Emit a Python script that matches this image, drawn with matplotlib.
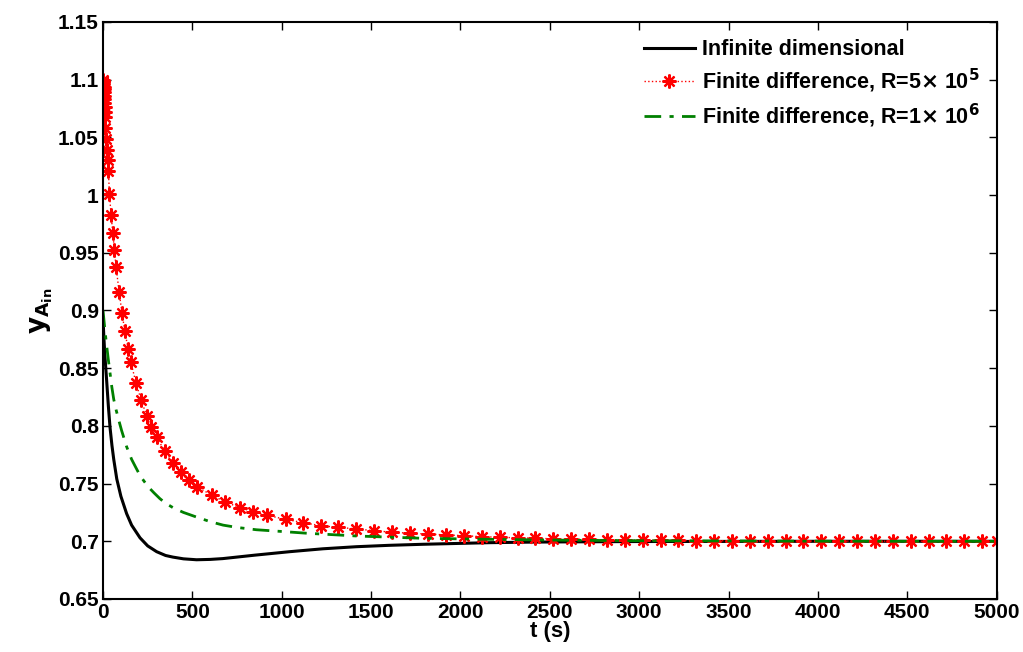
import numpy as np
import matplotlib
matplotlib.use("Agg")
import matplotlib.pyplot as plt
from matplotlib.ticker import FuncFormatter

plt.rcParams['font.family'] = ['Liberation Sans', 'DejaVu Sans']
plt.rcParams['font.weight'] = 'bold'
plt.rcParams['mathtext.default'] = 'bf'

# infinite dimensional model
t_inf = [0, 5, 10, 15, 20, 30, 39, 50, 60, 77, 100, 132, 160, 207, 250, 300, 350, 391,
         450, 523, 600, 670, 850, 1045, 1230, 1417, 1600, 1788, 2000, 2162, 2400, 2600,
         3000, 3500, 4000, 4500, 5000]
y_inf = [0.893, 0.876, 0.862, 0.851, 0.840, 0.817, 0.799, 0.783, 0.771, 0.754, 0.739,
         0.724, 0.714, 0.703, 0.696, 0.691, 0.6877, 0.6863, 0.6848, 0.684, 0.6843,
         0.685, 0.688, 0.691, 0.6935, 0.6953, 0.6965, 0.6974, 0.6982, 0.6988, 0.6993,
         0.6995, 0.6998, 0.6999, 0.7, 0.7, 0.7]

# finite difference, R = 5e5
t_r5 = [0, 0.5, 1, 2, 3, 4, 5, 6, 7, 8, 9, 10, 11, 13, 17, 21, 26, 30, 36, 45, 55,
        64, 73, 90, 106, 122, 140, 156, 185, 214, 244, 268, 300, 346, 393, 436, 480,
        527, 607, 682, 765, 840, 920, 1021, 1119, 1218, 1315, 1417, 1516, 1618, 1719,
        1817, 1920, 2017, 2119, 2219, 2319, 2419, 2519, 2619, 2719, 2819, 2919, 3019,
        3119, 3219, 3319, 3419, 3519, 3619, 3719, 3819, 3919, 4019, 4119, 4219, 4319,
        4419, 4519, 4619, 4719, 4819, 4919, 5000]
y_r5 = [1.100, 1.099, 1.098, 1.096, 1.094, 1.092, 1.089, 1.086, 1.083, 1.080, 1.076,
        1.072, 1.068, 1.058, 1.049, 1.039, 1.030, 1.021, 1.001, 0.983, 0.967, 0.952,
        0.938, 0.916, 0.898, 0.882, 0.867, 0.855, 0.837, 0.822, 0.809, 0.799, 0.790,
        0.778, 0.768, 0.760, 0.753, 0.7473, 0.740, 0.7343, 0.7291, 0.7257, 0.7225,
        0.719, 0.7162, 0.7135, 0.7121, 0.7107, 0.7092, 0.7078, 0.7070, 0.7063, 0.7055,
        0.7049, 0.704, 0.7035, 0.7030, 0.7026, 0.7022, 0.7019, 0.7016, 0.7013, 0.7011,
        0.7009, 0.7008, 0.7007, 0.7006, 0.7005, 0.7004, 0.7004, 0.7003, 0.7003, 0.7002,
        0.7002, 0.7002, 0.7001, 0.7001, 0.7001, 0.7001, 0.7001, 0.7001, 0.7, 0.7, 0.7]

# finite difference, R = 1e6
t_r6 = [0, 5, 10, 20, 30, 40, 49, 60, 73, 88, 104, 118, 132, 160, 180, 207, 230, 254,
        285, 318, 350, 393, 450, 523, 600, 672, 750, 858, 1000, 1138, 1417, 1788, 2162,
        2600, 3000, 3500, 4000, 4500, 5000]
y_r6 = [0.900, 0.892, 0.884, 0.870, 0.857, 0.845, 0.834, 0.823, 0.814, 0.805, 0.796,
        0.789, 0.782, 0.771, 0.765, 0.757, 0.752, 0.747, 0.742, 0.737, 0.733, 0.729,
        0.725, 0.721, 0.717, 0.714, 0.712, 0.710, 0.7085, 0.707, 0.7046, 0.7026,
        0.7017, 0.7009, 0.7005, 0.7003, 0.7001, 0.7, 0.7]

fig = plt.figure(figsize=(10.23, 6.52), dpi=100)
ax = fig.add_axes([0.1007, 0.0813, 0.8736, 0.885])

ax.plot(t_inf, y_inf, color='black', lw=2.2, label='Infinite dimensional')
ax.plot(t_r5, y_r5, color='red', ls=':', lw=1.0, marker=(8, 2, 0), ms=10, mew=1.6,
        label=r'Finite difference, R=5$\times$ 10$^5$')
ax.plot(t_r6, y_r6, color='#008000', ls=(0, (6, 3, 1.5, 3)), lw=2.0,
        label=r'Finite difference, R=1$\times$ 10$^6$')

ax.set_xlim(0, 5000)
ax.set_ylim(0.65, 1.15)
ax.set_xticks(np.arange(0, 5001, 500))
ax.set_yticks(np.arange(0.65, 1.151, 0.05))
ax.yaxis.set_major_formatter(FuncFormatter(lambda v, p: '%g' % round(v, 2)))
ax.tick_params(direction='in', top=True, right=True, length=6, width=1, labelsize=15,
               pad=3)
for s in ax.spines.values():
    s.set_linewidth(1.5)

ax.set_xlabel('t (s)', fontsize=16, fontweight='bold', labelpad=-1)
ax.set_ylabel(r'$\mathbf{y_{A_{in}}}$', fontsize=19, labelpad=2)

ax.legend(loc='upper right', frameon=False, fontsize=15.5, handlelength=2.4,
          handletextpad=0.3, borderaxespad=0.4, labelspacing=0.3)

fig.savefig('out.png', dpi=100)
